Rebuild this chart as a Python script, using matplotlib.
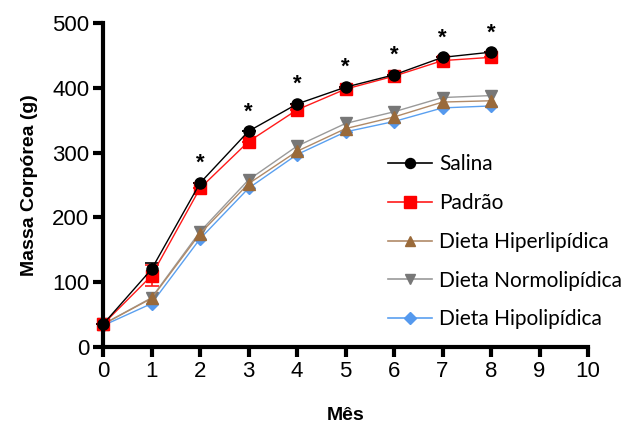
import matplotlib
matplotlib.use("Agg")
import matplotlib.pyplot as plt
from matplotlib.lines import Line2D

# body mass (g) per month for each group
months = [0, 1, 2, 3, 4, 5, 6, 7, 8]
salina = [35, 120, 253, 333, 375, 401, 420, 447, 455]
padrao = [35, 110, 245, 317, 366, 398, 418, 442, 447]
hiper = [35, 75, 175, 252, 302, 337, 355, 378, 380]
normo = [35, 76, 178, 258, 310, 345, 363, 385, 388]
hipo = [33, 67, 167, 245, 297, 332, 348, 369, 372]

# SEM, only visible at month 1
salina_err = [0, 10, 0, 0, 0, 0, 0, 0, 0]
padrao_err = [0, 16, 0, 0, 0, 0, 0, 0, 0]

# months flagged as significant
sig_months = [2, 3, 4, 5, 6, 7, 8]

series = [
    ("Salina", salina, salina_err, "o", "black", "black", 8),
    ("Padrão", padrao, padrao_err, "s", "#ff1a1a", "#ff0000", 9),
    ("Dieta Hiperlipídica", hiper, None, "^", "#b08a68", "#9a6a3a", 8.5),
    ("Dieta Normolipídica", normo, None, "v", "#9a9a9a", "#777777", 8.5),
    ("Dieta Hipolipídica", hipo, None, "D", "#5aa0f0", "#5599ee", 6.5),
]

fig = plt.figure(figsize=(6.34, 4.26), dpi=100)
ax = fig.add_axes([0.1625, 0.1854, 0.765, 0.7606])

handles = []
for label, ys, err, mk, lc, mc, ms in reversed(series):
    ax.errorbar(months, ys, yerr=err, color=lc, lw=1, marker=mk,
                markersize=ms, markerfacecolor=mc, markeredgecolor=mc,
                ecolor=lc, elinewidth=1.2, capsize=5, capthick=1.2,
                clip_on=False)
for label, ys, err, mk, lc, mc, ms in series:
    handles.append(Line2D([], [], color=lc, lw=1.2, marker=mk,
                          markersize=ms * 0.9, markerfacecolor=mc,
                          markeredgecolor=mc, label=label))

star_offset = 30
for m in sig_months:
    ax.text(m, salina[m] + star_offset, "*", ha="center", va="center",
            fontsize=16, fontweight="bold", color="black",
            family="Liberation Sans")

ax.set_xlim(0, 10)
ax.set_ylim(0, 500)
ax.set_xticks(range(0, 11))
ax.set_yticks(range(0, 501, 100))
ax.spines["top"].set_visible(False)
ax.spines["right"].set_visible(False)
for s in ("left", "bottom"):
    ax.spines[s].set_linewidth(3)
ax.tick_params(width=3, length=7, labelsize=16, direction="out", pad=3)
for lbl in ax.get_xticklabels() + ax.get_yticklabels():
    lbl.set_family("Liberation Sans")

ax.set_xlabel("Mês", fontsize=14, fontweight="bold",
              family="Liberation Sans", labelpad=18)
ax.set_ylabel("Massa Corpórea (g)", fontsize=14, fontweight="bold",
              family="Liberation Sans", labelpad=10)

ax.legend(handles=handles, loc="upper left",
          bbox_to_anchor=(0.57, 0.62), frameon=False,
          prop={"family": "Lato", "size": 15}, labelspacing=0.9,
          handlelength=2.1, handletextpad=0.35, borderaxespad=0)

fig.savefig("out.png", dpi=100)
